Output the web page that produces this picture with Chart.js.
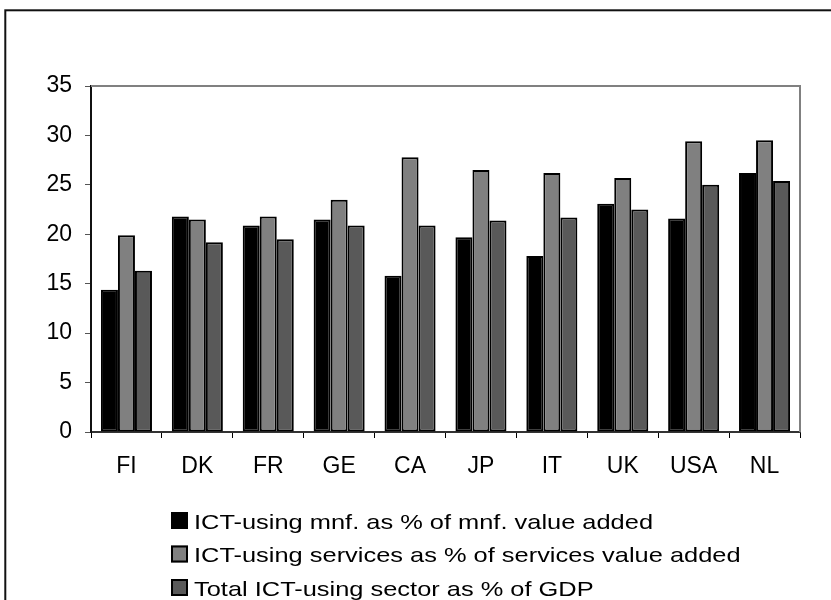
<!DOCTYPE html>
<html>
<head>
<meta charset="utf-8">
<script src="https://cdn.jsdelivr.net/npm/chart.js@4/dist/chart.umd.min.js"></script>
<style>
  html, body { margin: 0; padding: 0; background: #fff; }
  canvas { display: block; }
</style>
</head>
<body>
<canvas id="c" width="831" height="600"></canvas>
<script>
// Countries on the category axis
const countries = ['FI', 'DK', 'FR', 'GE', 'CA', 'JP', 'IT', 'UK', 'USA', 'NL'];

// Shares (%) for each country
const mnfShare      = [14.4, 21.8, 20.9, 21.5, 15.8, 19.7, 17.8, 23.1, 21.6, 26.2];
const servicesShare = [19.9, 21.5, 21.8, 23.5, 27.8, 26.5, 26.2, 25.7, 29.4, 29.5];
const totalShare    = [16.3, 19.2, 19.5, 20.9, 20.9, 21.4, 21.7, 22.5, 25.0, 25.4];

const seriesLabels = [
  'ICT-using mnf. as % of mnf. value added',
  'ICT-using services as % of services value added',
  'Total ICT-using sector as % of GDP'
];

// Value axis range
const yMin = 0, yMax = 35, yStep = 5;

const FONT = '"Liberation Sans", Arial, sans-serif';

// Outer frame, plot-area outline and a stacked legend under the axis
const decorations = {
  id: 'decorations',
  beforeDatasetsDraw(chart) {
    const { ctx, chartArea: a } = chart;
    ctx.save();
    ctx.strokeStyle = '#808080';
    ctx.lineWidth = 2;
    ctx.beginPath();
    ctx.moveTo(a.left, a.top);
    ctx.lineTo(a.right, a.top);
    ctx.lineTo(a.right, a.bottom);
    ctx.stroke();
    ctx.restore();
  },
  afterDraw(chart) {
    const { ctx } = chart;
    ctx.save();
    // frame around the whole figure
    ctx.strokeStyle = '#111';
    ctx.lineWidth = 2;
    ctx.strokeRect(5.3, 10.3, 1000, 1000);

    // legend
    const boxX = 171, boxSize = 17, textX = 194;
    const rowTop = [512, 545.5, 579];
    chart.data.datasets.forEach((ds, i) => {
      const y = rowTop[i];
      ctx.fillStyle = ds.backgroundColor;
      ctx.fillRect(boxX, y, boxSize, boxSize);
      ctx.strokeStyle = '#000';
      ctx.lineWidth = 2;
      ctx.strokeRect(boxX + 1, y + 1, boxSize - 2, boxSize - 2);

      ctx.save();
      ctx.translate(textX, y + 16.5);
      ctx.scale(1.21, 1);
      ctx.fillStyle = '#000';
      ctx.font = '21px ' + FONT;
      ctx.textBaseline = 'alphabetic';
      ctx.textAlign = 'left';
      ctx.fillText(ds.label, 0, 0);
      ctx.restore();
    });
    ctx.restore();
  }
};

const colors = ['#000000', '#808080', '#595959'];
const values = [mnfShare, servicesShare, totalShare];

new Chart(document.getElementById('c'), {
  type: 'bar',
  data: {
    labels: countries,
    datasets: values.map((v, i) => ({
      label: seriesLabels[i],
      data: v,
      backgroundColor: colors[i],
      borderColor: '#000',
      borderWidth: 2,
      borderSkipped: false,
      categoryPercentage: 0.72,
      barPercentage: 1.0
    }))
  },
  options: {
    responsive: false,
    animation: false,
    devicePixelRatio: 1,
    layout: { padding: { left: 0, top: 86, right: 31, bottom: 0 } },
    plugins: {
      legend: { display: false },
      tooltip: { enabled: false },
      title: { display: false }
    },
    scales: {
      x: {
        offset: true,
        grid: {
          offset: true,
          drawOnChartArea: false,
          drawTicks: true,
          tickLength: 6,
          color: '#000',
          lineWidth: 1
        },
        border: { display: true, color: '#333', width: 2 },
        ticks: {
          color: '#000',
          font: { family: FONT, size: 23 },
          padding: 15,
          maxRotation: 0,
          autoSkip: false
        },
        afterFit(scale) { scale.height = 168; }
      },
      y: {
        min: yMin,
        max: yMax,
        grid: {
          drawOnChartArea: false,
          drawTicks: true,
          tickLength: 6,
          color: '#555',
          lineWidth: 1
        },
        border: { display: true, color: '#111', width: 2 },
        ticks: {
          stepSize: yStep,
          color: '#000',
          font: { family: FONT, size: 23 },
          padding: 13
        },
        afterFit(scale) { scale.width = 91; }
      }
    }
  },
  plugins: [decorations]
});
</script>
</body>
</html>
